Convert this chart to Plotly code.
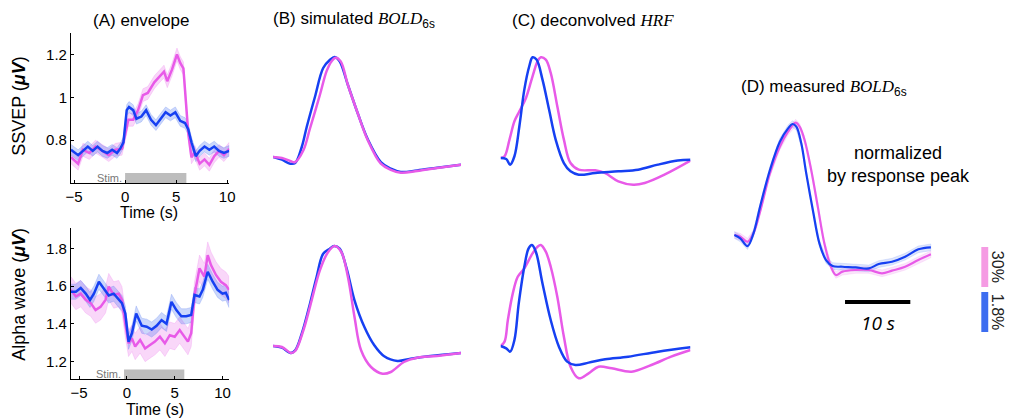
import plotly.graph_objects as go

# ---------------- data ----------------
# (A) envelope, SSVEP (top)
a1_blue_t = [-5.3, -4.6, -4.13, -3.65, -3.17, -2.7, -2.22, -1.75, -1.27, -0.79, -0.48, -0.16, 0.16, 0.38, 0.79, 1.11,
             1.59, 2.06, 2.54, 3.02, 3.49, 3.97, 4.44, 4.92, 5.4, 5.87, 6.19, 6.5, 6.92, 7.3, 7.78, 8.25, 8.73, 9.2,
             9.68, 10.2]
a1_blue_v = [0.755, 0.73, 0.75, 0.77, 0.75, 0.77, 0.75, 0.74, 0.755, 0.74, 0.76, 0.79, 0.94, 0.955, 0.94, 0.90,
             0.91, 0.94, 0.895, 0.87, 0.90, 0.93, 0.915, 0.93, 0.89, 0.88, 0.85, 0.79, 0.725, 0.75, 0.77, 0.755,
             0.77, 0.75, 0.74, 0.75]
a1_pink_t = [-5.3, -4.6, -4.13, -3.5, -2.9, -2.2, -1.6, -0.95, -0.3, 0.0, 0.32, 0.79, 1.27, 1.75, 2.22, 2.86,
             3.49, 3.81, 4.13, 4.6, 5.08, 5.4, 5.71, 5.97, 6.19, 6.5, 6.83, 7.3, 7.78, 8.25, 8.73, 9.2, 9.68, 10.2]
a1_pink_v = [0.72, 0.69, 0.755, 0.74, 0.77, 0.75, 0.73, 0.755, 0.76, 0.825, 0.895, 0.895, 0.94, 1.01, 1.02,
             1.07, 1.105, 1.12, 1.075, 1.13, 1.20, 1.16, 1.135, 0.99, 0.83, 0.72, 0.745, 0.69, 0.71, 0.685, 0.725,
             0.75, 0.73, 0.76]
a1_blue_err = 0.025
a1_pink_err = 0.03

# (A) envelope, alpha wave (bottom)
a2_blue_t = [-5.86, -5.34, -4.83, -4.31, -3.86, -3.45, -2.93, -2.41, -1.9, -1.38, -0.86, -0.52, -0.17, 0.17, 0.52,
             0.97, 1.55, 2.07, 2.59, 3.1, 3.62, 4.14, 4.66, 5.17, 5.69, 6.2, 6.72, 7.07, 7.59, 7.93, 8.45, 8.97,
             9.48, 10.0, 10.34, 10.69]
a2_blue_v = [1.57, 1.57, 1.59, 1.56, 1.527, 1.56, 1.623, 1.588, 1.55, 1.56, 1.527, 1.51, 1.455, 1.305, 1.35,
             1.455, 1.39, 1.385, 1.37, 1.39, 1.42, 1.40, 1.517, 1.473, 1.44, 1.44, 1.447, 1.553, 1.545, 1.58,
             1.676, 1.623, 1.58, 1.56, 1.565, 1.526]
a2_pink_t = [-5.86, -5.34, -4.83, -4.31, -3.79, -3.28, -2.76, -2.24, -1.9, -1.38, -0.86, -0.52, -0.17, 0.17, 0.52,
             0.86, 1.38, 1.9, 2.41, 2.93, 3.45, 3.97, 4.48, 5.0, 5.52, 6.03, 6.38, 6.72, 7.07, 7.59, 8.1, 8.45,
             8.79, 9.31, 9.83, 10.34, 10.69]
a2_pink_v = [1.58, 1.545, 1.56, 1.527, 1.51, 1.473, 1.49, 1.527, 1.597, 1.553, 1.56, 1.527, 1.40, 1.297, 1.323,
             1.28, 1.315, 1.27, 1.288, 1.306, 1.332, 1.297, 1.34, 1.332, 1.367, 1.332, 1.306, 1.35, 1.553, 1.694,
             1.65, 1.764, 1.711, 1.659, 1.623, 1.605, 1.58]
a2_blue_err = 0.04
a2_pink_err = 0.07

# (B) simulated BOLD 6s (normalized)
b1_blue_t = [0, 1.42, 2.74, 3.53, 4.58, 5.37, 6.68, 8.0, 9.05, 9.84, 10.63, 11.95, 13.5, 15.1, 17.2, 18.8, 20.4,
             23.0, 26.2, 30.0]
b1_blue_v = [0, -0.027, -0.067, -0.06, 0.10, 0.30, 0.60, 0.89, 0.97, 1.0, 0.956, 0.72, 0.44, 0.18, -0.05, -0.117,
             -0.15, -0.134, -0.107, -0.077]
b1_pink_t = [0, 1.42, 2.74, 3.53, 4.84, 5.89, 7.47, 8.53, 9.32, 10.0, 10.8, 11.95, 13.5, 15.1, 17.2, 18.8, 20.4,
             23.0, 26.2, 30.0]
b1_pink_v = [0, -0.01, -0.04, -0.05, 0.067, 0.285, 0.62, 0.856, 0.956, 0.993, 0.956, 0.72, 0.44, 0.17, -0.067,
             -0.128, -0.158, -0.14, -0.11, -0.077]
b2_blue_t = [0, 1.42, 2.74, 3.53, 4.58, 5.89, 6.95, 8.0, 9.05, 9.74, 10.63, 11.68, 13.0, 14.58, 16.16, 17.74,
             19.84, 21.95, 25.1, 30.0]
b2_blue_v = [0, -0.017, -0.07, -0.043, 0.123, 0.423, 0.69, 0.923, 0.973, 1.0, 0.973, 0.79, 0.457, 0.19, 0.007,
             -0.103, -0.15, -0.127, -0.1, -0.07]
b2_pink_t = [0, 1.42, 2.89, 3.53, 4.84, 6.16, 7.47, 8.79, 9.84, 10.89, 11.95, 13.0, 14.05, 15.63, 17.47, 18.79,
             20.89, 23.0, 26.16, 30.0]
b2_pink_v = [0, -0.01, -0.07, -0.05, 0.157, 0.457, 0.757, 0.94, 1.0, 0.94, 0.69, 0.29, -0.043, -0.21, -0.277,
             -0.26, -0.16, -0.117, -0.1, -0.07]

# (C) deconvolved HRF (normalized)
c1_blue_t = [0, 0.89, 1.51, 2.19, 2.97, 3.75, 4.53, 5.05, 5.68, 6.62, 7.66, 8.7, 10.0, 11.05, 12.35, 14.95, 18.6,
             21.73, 24.85, 27.98, 30.0]
c1_blue_v = [0, -0.01, -0.066, 0.017, 0.314, 0.677, 0.908, 0.997, 0.974, 0.776, 0.479, 0.182, -0.05, -0.132,
             -0.165, -0.149, -0.132, -0.116, -0.066, -0.026, -0.017]
c1_pink_t = [0, 0.63, 1.41, 2.19, 2.97, 4.01, 5.05, 5.84, 6.36, 7.14, 7.92, 8.96, 10.0, 11.05, 12.35, 14.95,
             16.52, 18.6, 20.94, 22.77, 25.89, 30.0]
c1_pink_v = [0, 0.017, 0.182, 0.363, 0.462, 0.594, 0.809, 0.957, 0.997, 0.974, 0.842, 0.512, 0.182, -0.05, -0.116,
             -0.122, -0.149, -0.231, -0.264, -0.248, -0.165, -0.026]
c2_blue_t = [0, 0.89, 1.51, 2.19, 2.87, 3.75, 4.43, 4.95, 5.57, 6.62, 7.92, 9.22, 10.52, 11.83, 13.91, 16.52,
             20.16, 24.85, 30.0]
c2_blue_v = [0, -0.023, -0.056, 0.059, 0.422, 0.785, 0.967, 1.0, 0.934, 0.62, 0.257, -0.007, -0.155, -0.188,
             -0.165, -0.132, -0.106, -0.056, -0.013]
c2_pink_t = [0, 0.63, 1.15, 1.93, 2.71, 3.75, 5.05, 5.84, 6.36, 7.14, 7.92, 8.96, 10.0, 11.05, 12.35, 13.91,
             15.47, 17.56, 20.69, 23.82, 26.94, 30.0]
c2_pink_v = [0, 0.043, 0.257, 0.521, 0.686, 0.769, 0.917, 0.983, 1.0, 0.934, 0.785, 0.488, 0.092, -0.205, -0.32,
             -0.271, -0.205, -0.221, -0.254, -0.188, -0.106, -0.04]

# (D) measured BOLD 6s (normalized by response peak)
d_blue_t = [0.05, 0.96, 2.07, 2.98, 3.99, 5.5, 7.02, 8.28, 8.94, 9.54, 10.3, 11.06, 12.07, 13.08, 14.09, 15.1,
            16.61, 18.63, 20.65, 22.17, 24.19, 26.21, 28.23, 30.15]
d_blue_v = [0, -0.03, -0.099, 0.015, 0.254, 0.582, 0.836, 0.955, 0.994, 0.97, 0.821, 0.552, 0.224, -0.075, -0.224,
            -0.278, -0.284, -0.29, -0.299, -0.26, -0.239, -0.194, -0.128, -0.11]
d_pink_t = [0.05, 0.96, 2.07, 2.98, 3.99, 5.5, 7.02, 8.28, 9.44, 10.05, 10.81, 11.82, 12.83, 13.84, 14.85, 15.6,
            16.61, 18.63, 20.65, 22.67, 24.19, 26.21, 28.23, 30.15]
d_pink_v = [0, -0.015, -0.06, 0.015, 0.209, 0.552, 0.791, 0.925, 1.006, 0.97, 0.851, 0.582, 0.254, -0.075, -0.284,
            -0.358, -0.328, -0.313, -0.313, -0.343, -0.319, -0.284, -0.224, -0.173]
d_err = 0.03
scalebar_s = 10

legend_labels = ["30%", "1.8%"]

# ---------------- styling ----------------
W, H = 1016, 420
BLUE = "#1640f2"
PINK = "#e85ae8"
BLUE_BAND = "rgba(70,110,240,0.28)"
PINK_BAND = "rgba(235,110,235,0.28)"
FONT = "Liberation Sans, Arial, sans-serif"
SERIF = "Liberation Serif, DejaVu Serif, serif"


def dx(p0, p1):
    return [p0 / W, p1 / W]


def dy(top, bottom):
    return [1 - bottom / H, 1 - top / H]


fig = go.Figure()


def band(t, v, err, color, xa, ya):
    up = [a + err for a in v]
    lo = [a - err for a in v]
    fig.add_trace(go.Scatter(x=list(t) + list(t)[::-1], y=up + lo[::-1], fill="toself", fillcolor=color,
                             line=dict(width=0.8, color=color), mode="lines", hoverinfo="skip",
                             xaxis=xa, yaxis=ya, showlegend=False))


def line(t, v, color, xa, ya, w=2.5, shape="linear"):
    fig.add_trace(go.Scatter(x=t, y=v, mode="lines", line=dict(color=color, width=w, shape=shape),
                             xaxis=xa, yaxis=ya, showlegend=False))


# A top
band(a1_pink_t, a1_pink_v, a1_pink_err, PINK_BAND, "x", "y")
band(a1_blue_t, a1_blue_v, a1_blue_err, BLUE_BAND, "x", "y")
line(a1_pink_t, a1_pink_v, PINK, "x", "y")
line(a1_blue_t, a1_blue_v, BLUE, "x", "y")
# A bottom
band(a2_pink_t, a2_pink_v, a2_pink_err, PINK_BAND, "x2", "y2")
band(a2_blue_t, a2_blue_v, a2_blue_err, BLUE_BAND, "x2", "y2")
line(a2_pink_t, a2_pink_v, PINK, "x2", "y2")
line(a2_blue_t, a2_blue_v, BLUE, "x2", "y2")
# B
line(b1_blue_t, b1_blue_v, BLUE, "x3", "y3", shape="spline")
line(b1_pink_t, b1_pink_v, PINK, "x3", "y3", shape="spline")
line(b2_blue_t, b2_blue_v, BLUE, "x4", "y4", shape="spline")
line(b2_pink_t, b2_pink_v, PINK, "x4", "y4", shape="spline")
# C
line(c1_pink_t, c1_pink_v, PINK, "x5", "y5", shape="spline")
line(c1_blue_t, c1_blue_v, BLUE, "x5", "y5", shape="spline")
line(c2_pink_t, c2_pink_v, PINK, "x6", "y6", shape="spline")
line(c2_blue_t, c2_blue_v, BLUE, "x6", "y6", shape="spline")
# D
band(d_pink_t, d_pink_v, d_err, "rgba(235,110,235,0.18)", "x7", "y7")
band(d_blue_t, d_blue_v, d_err, "rgba(70,110,240,0.18)", "x7", "y7")
line(d_pink_t, d_pink_v, PINK, "x7", "y7", w=2.2, shape="spline")
line(d_blue_t, d_blue_v, BLUE, "x7", "y7", w=2.2, shape="spline")
# scale bar (10 s) in D
fig.add_trace(go.Scatter(x=[17, 17 + scalebar_s], y=[-0.6, -0.6], mode="lines",
                         line=dict(color="black", width=4), xaxis="x7", yaxis="y7", showlegend=False))

vis_axis = dict(showline=True, linecolor="black", linewidth=1, ticks="inside", ticklen=3, tickcolor="black",
                showgrid=False, zeroline=False, tickfont=dict(size=15, color="black", family=FONT))
hidden = dict(visible=False, showgrid=False, zeroline=False)

fig.update_layout(
    width=W, height=H, margin=dict(l=0, r=0, t=0, b=0),
    paper_bgcolor="white", plot_bgcolor="white", showlegend=False,
    font=dict(family=FONT, color="black"),
    xaxis=dict(domain=dx(66.7, 226.7), range=[-5.3, 10.2], tickvals=[-5, 0, 5, 10], anchor="y", **vis_axis),
    yaxis=dict(domain=dy(33, 183), range=[0.6, 1.3], tickvals=[0.8, 1, 1.2], ticktext=["0.8", "1", "1.2"],
               anchor="x", **vis_axis),
    xaxis2=dict(domain=dx(66.7, 226.7), range=[-5.85, 10.7], tickvals=[-5, 0, 5, 10], anchor="y2", **vis_axis),
    yaxis2=dict(domain=dy(228.3, 379), range=[1.108, 1.906], tickvals=[1.2, 1.4, 1.6, 1.8], anchor="x2",
                **vis_axis),
    xaxis3=dict(domain=dx(271, 461), range=[0, 30], anchor="y3", **hidden),
    yaxis3=dict(domain=dy(40, 200), range=[-0.43, 1.17], anchor="x3", **hidden),
    xaxis4=dict(domain=dx(271, 461), range=[0, 30], anchor="y4", **hidden),
    yaxis4=dict(domain=dy(230, 390), range=[-0.44, 1.16], anchor="x4", **hidden),
    xaxis5=dict(domain=dx(501, 693), range=[0, 30], anchor="y5", **hidden),
    yaxis5=dict(domain=dy(40, 200), range=[-0.416, 1.168], anchor="x5", **hidden),
    xaxis6=dict(domain=dx(501, 693), range=[0, 30], anchor="y6", **hidden),
    yaxis6=dict(domain=dy(230, 390), range=[-0.436, 1.149], anchor="x6", **hidden),
    xaxis7=dict(domain=dx(737, 937), range=[0, 30.3], anchor="y7", **hidden),
    yaxis7=dict(domain=dy(100, 340), range=[-0.94, 1.209], anchor="x7", **hidden),
)

# stimulus bars
fig.add_shape(type="rect", xref="x", yref="y", x0=0, x1=6, y0=0.6, y1=0.647, fillcolor="#bdbdbd",
              line=dict(width=0), layer="below")
fig.add_shape(type="rect", xref="x2", yref="y2", x0=-0.3, x1=6, y0=1.108, y1=1.158, fillcolor="#bdbdbd",
              line=dict(width=0), layer="below")

# legend colour bars (paper coords)
fig.add_shape(type="rect", xref="paper", yref="paper", x0=987 / W, x1=994 / W, y0=1 - 287 / H, y1=1 - 247 / H,
              fillcolor="#f59be3", line=dict(width=0))
fig.add_shape(type="rect", xref="paper", yref="paper", x0=987 / W, x1=994 / W, y0=1 - 332 / H, y1=1 - 292 / H,
              fillcolor="#3d6df0", line=dict(width=0))

ann = []


def ptxt(text, x, y, size, **kw):
    color = kw.pop("color", "black")
    d = dict(text=text, x=x / W, y=1 - y / H, xref="paper", yref="paper", showarrow=False,
             xanchor="center", yanchor="middle",
             font=dict(size=size, family=FONT, color=color), **kw)
    ann.append(d)


bold6 = lambda s: ("<span style='font-family:" + SERIF + "'><i>" + s + "</i></span><sub>6s</sub>")
ptxt("(A) envelope", 137, 20, 17)
ptxt("(B) simulated " + bold6("BOLD"), 353, 20, 17)
ptxt("(C) deconvolved <span style='font-family:" + SERIF + "'><i>HRF</i></span>", 594, 20, 17)
ptxt("(D) measured " + bold6("BOLD"), 828, 88, 17)
ptxt("normalized<br>by response peak", 903, 165, 18)
ptxt("SSVEP (<b><i>μV</i></b>)", 14, 106, 18, textangle=-90)
ptxt("Alpha wave (<b><i>μV</i></b>)", 14, 294, 18, textangle=-90)
ptxt("Time (s)", 146, 212, 16)
ptxt("Time (s)", 152, 409, 16)
ptxt(legend_labels[0], 1004, 267, 16, textangle=90, color="#222")
ptxt(legend_labels[1], 1004, 312, 16, textangle=90, color="#222")

ann.append(dict(text="<i>10 s</i>", x=17 + scalebar_s / 2, y=-0.79, xref="x7", yref="y7", showarrow=False,
                xanchor="center", yanchor="middle",
                font=dict(size=19, family="Open Sans, Liberation Sans, sans-serif", color="black")))
ann.append(dict(text="Stim.", x=-0.15, y=0.625, xref="x", yref="y", xanchor="right", yanchor="middle",
                showarrow=False, font=dict(size=11, family=FONT, color="#777")))
ann.append(dict(text="Stim.", x=-0.45, y=1.133, xref="x2", yref="y2", xanchor="right", yanchor="middle",
                showarrow=False, font=dict(size=11, family=FONT, color="#777")))
fig.update_layout(annotations=ann)

fig.write_html("out.html")
